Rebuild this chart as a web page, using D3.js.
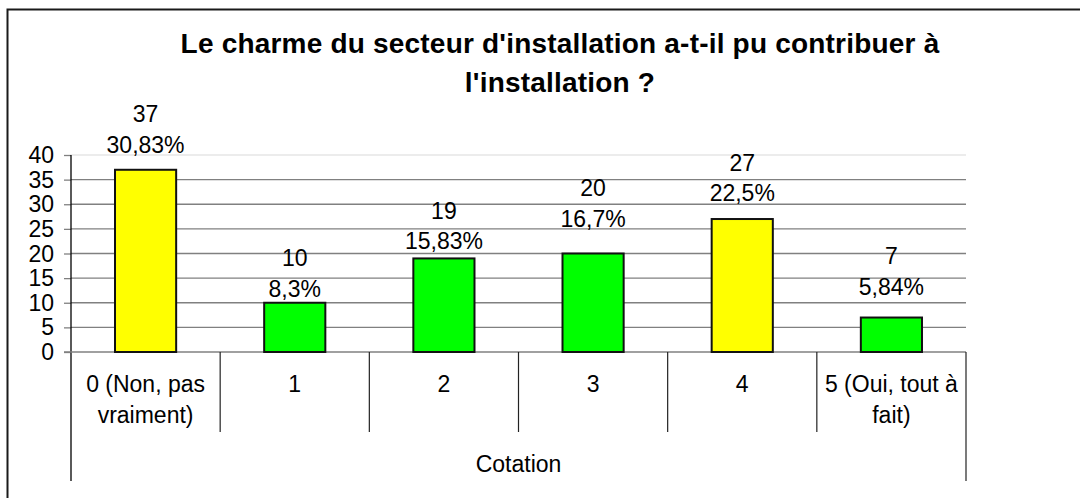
<!DOCTYPE html>
<html>
<head>
<meta charset="utf-8">
<script src="https://cdn.jsdelivr.net/npm/d3@7"></script>
<style>
  html, body { margin: 0; padding: 0; background: #fff; }
  svg { display: block; }
  text { font-family: "Liberation Sans", Arial, sans-serif; fill: #000; }
</style>
</head>
<body>
<svg id="chart" width="1080" height="498"></svg>
<script>
// ---- data ----
const categories = ["0 (Non, pas vraiment)", "1", "2", "3", "4", "5 (Oui, tout à fait)"];
const counts = [37, 10, 19, 20, 27, 7];
const percents = ["30,83%", "8,3%", "15,83%", "16,7%", "22,5%", "5,84%"];
const yTicks = [0, 5, 10, 15, 20, 25, 30, 35, 40];
const titleLines = ["Le charme du secteur d'installation a-t-il pu contribuer à", "l'installation ?"];
const axisTitle = "Cotation";

// ---- layout / style (not data) ----
const highlighted = ["0 (Non, pas vraiment)", "4"];
const labelLift = [17, 6, 9, 27, 18, 23];   // px gap between bar top and label baseline
const W = 1080, H = 498;
const plot = { left: 71, right: 966, top: 155, bottom: 352 };
const FS = "23px", LS = "0px";

const svg = d3.select("#chart");

// outer frame (extends past right/bottom edges like reference)
svg.append("rect")
  .attr("x", 7.5).attr("y", 9.5)
  .attr("width", W + 20).attr("height", H + 20)
  .attr("fill", "#fff").attr("stroke", "#1a1a1a").attr("stroke-width", 2);

const x = d3.scaleBand().domain(categories).range([plot.left, plot.right]).padding(0);
const y = d3.scaleLinear().domain([0, 40]).range([plot.bottom, plot.top]);
const barW = x.bandwidth() * 0.41;

// gridlines
svg.append("g").selectAll("line").data(yTicks.filter(d => d > 0)).join("line")
  .attr("x1", plot.left).attr("x2", plot.right)
  .attr("y1", d => y(d)).attr("y2", d => y(d))
  .attr("stroke", d => d === 40 ? "#e6e6e6" : "#808080")
  .attr("stroke-width", 1.3);

// y axis
const yAxis = d3.axisLeft(y).tickValues(yTicks).tickSize(7).tickPadding(10).tickFormat(d3.format("d"));
const gy = svg.append("g").attr("transform", `translate(${plot.left},0)`).call(yAxis);
gy.select(".domain").remove();
gy.selectAll(".tick line").attr("stroke", "#808080").attr("stroke-width", 1.3);
gy.selectAll(".tick text")
  .style("font-family", '"Liberation Sans", Arial, sans-serif')
  .style("font-size", FS).style("letter-spacing", LS)
  .attr("fill", "#000").attr("dy", "0.33em");

// y axis line, extended down to the bottom of category area
svg.append("line")
  .attr("x1", plot.left).attr("x2", plot.left)
  .attr("y1", plot.top).attr("y2", 481)
  .attr("stroke", "#000").attr("stroke-width", 1.3);

// x axis baseline
svg.append("line")
  .attr("x1", plot.left - 7).attr("x2", plot.right)
  .attr("y1", y(0)).attr("y2", y(0))
  .attr("stroke", "#808080").attr("stroke-width", 1.3);

// category dividers
const bounds = categories.map(c => x(c)).concat([plot.right]);
svg.append("g").selectAll("line").data(bounds.slice(1)).join("line")
  .attr("x1", d => d).attr("x2", d => d)
  .attr("y1", y(0)).attr("y2", (d, i) => i === bounds.length - 2 ? 481 : 432)
  .attr("stroke", "#222").attr("stroke-width", 1.2);

// bars
svg.append("g").selectAll("rect").data(categories).join("rect")
  .attr("x", d => x(d) + x.bandwidth() / 2 - barW / 2)
  .attr("y", (d, i) => y(counts[i]))
  .attr("width", barW)
  .attr("height", (d, i) => y(0) - y(counts[i]))
  .attr("fill", d => highlighted.includes(d) ? "#ffff00" : "#00ff00")
  .attr("stroke", "#111").attr("stroke-width", 2);

// data labels
const lbl = svg.append("g").style("font-size", FS).style("letter-spacing", LS);
categories.forEach((c, i) => {
  const cx = x(c) + x.bandwidth() / 2;
  const base = y(counts[i]) - labelLift[i];
  lbl.append("text").attr("x", cx).attr("y", base).attr("text-anchor", "middle").text(percents[i]);
  lbl.append("text").attr("x", cx).attr("y", base - 30.5).attr("text-anchor", "middle").text(counts[i]);
});

// category labels with wrapping
const catG = svg.append("g").style("font-size", FS).style("letter-spacing", LS);
categories.forEach(c => {
  const cx = x(c) + x.bandwidth() / 2;
  const t = catG.append("text").attr("x", cx).attr("y", 392).attr("text-anchor", "middle");
  const words = c.split(" ");
  let line = [];
  let ts = t.append("tspan").attr("x", cx).attr("dy", 0);
  words.forEach(w => {
    line.push(w);
    ts.text(line.join(" "));
    if (ts.node().getComputedTextLength() > 142 && line.length > 1) {
      line.pop();
      ts.text(line.join(" "));
      line = [w];
      ts = t.append("tspan").attr("x", cx).attr("dy", 31).text(w);
    }
  });
});

// axis title
svg.append("text")
  .attr("x", (plot.left + plot.right) / 2).attr("y", 472)
  .attr("text-anchor", "middle")
  .style("font-size", FS).style("letter-spacing", LS)
  .text(axisTitle);

// chart title
const tt = svg.append("text")
  .attr("text-anchor", "middle")
  .style("font-size", "28px").style("font-weight", "bold").style("letter-spacing", "0.2px");
titleLines.forEach((l, i) => {
  tt.append("tspan").attr("x", 560).attr("y", 52.5 + i * 39.5).text(l);
});
</script>
</body>
</html>
